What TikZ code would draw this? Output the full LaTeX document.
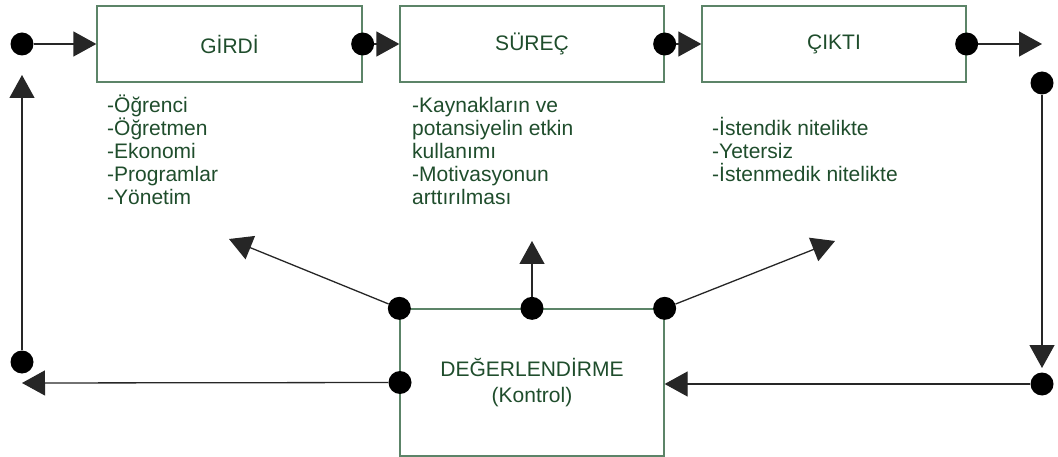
\documentclass[tikz,border=0pt]{standalone}
\usepackage{fontspec}
\setmainfont{Liberation Sans}
\usetikzlibrary{arrows.meta}
\definecolor{txtgreen}{HTML}{1F4D2C}
\definecolor{boxgreen}{HTML}{5C8468}
\begin{document}
\begin{tikzpicture}[x=1pt,y=-1pt,
  every node/.style={font=\fontsize{21}{23}\selectfont, text=txtgreen},
  stagebox/.style={draw=boxgreen, line width=1.3pt, fill=white, inner sep=0pt},
  dot/.style={circle, fill=black, inner sep=0pt, minimum size=23pt},
  arr/.style={-{Triangle[length=23pt,width=25pt]}, line width=1.3pt, draw=black!85},
  lst/.style={anchor=base west, align=left, inner sep=0pt}]
\useasboundingbox (0,0) rectangle (1058,457);

% stage boxes
\node[stagebox, minimum width=265pt, minimum height=76pt] (girdi) at (229.5,44) {GİRDİ};
\node[stagebox, minimum width=264pt, minimum height=76pt] (surec) at (532,44) {SÜREÇ};
\node[stagebox, minimum width=264pt, minimum height=76pt] (cikti) at (834,44) {ÇIKTI};
\node[stagebox, minimum width=264pt, minimum height=147pt, align=center] (deger) at (532,382.5)
  {DEĞERLENDİRME\\[3pt](Kontrol)};

% item lists (anchored at the baseline of their last line)
\node[lst] (l1) at (107,205) {-Öğrenci\\-Öğretmen\\-Ekonomi\\-Programlar\\-Yönetim};
\node[lst] (l2) at (412,205) {-Kaynakların ve\\potansiyelin etkin\\kullanımı\\-Motivasyonun\\arttırılması};
\node[lst] (l3) at (712,182) {-İstendik nitelikte\\-Yetersiz\\-İstenmedik nitelikte};

% junction dots
\node[dot] (din)  at (22,44) {};
\node[dot] (dg)   at (girdi.east) {};
\node[dot] (ds)   at (surec.east) {};
\node[dot] (dc)   at (cikti.east) {};
\node[dot] (dr1)  at (1042,83) {};
\node[dot] (dr2)  at (1042,384) {};
\node[dot] (dl)   at (22,362) {};
\node[dot] (dtl)  at (deger.north west) {};
\node[dot] (dtm)  at (deger.north) {};
\node[dot] (dtr)  at (deger.north east) {};
\node[dot] (dml)  at (400,382.5) {};

% free arrow ends
\coordinate (out)  at (1042,44);
\coordinate (up)   at (22,75);
\coordinate (down) at (1042,368);
\coordinate (back) at (22,383);
\coordinate (fl)   at (229,239);
\coordinate (fm)   at (532,241);
\coordinate (fr)   at (835,241);

% main flow
\draw[arr] (din) -- (girdi.west);
\draw[arr] (dg) -- (surec.west);
\draw[arr] (ds) -- (cikti.west);
\draw[arr] (dc) -- (out);

% feedback loop
\draw[arr] (dr1) -- (down);
\draw[arr] (dr2) -- (deger.east |- dr2);
\draw[arr] (dml) -- (back);
\draw[arr] (dl) -- (up);

% evaluation to stages
\draw[arr] (dtl) -- (fl);
\draw[arr] (dtm) -- (fm);
\draw[arr] (dtr) -- (fr);
\end{tikzpicture}
\end{document}
